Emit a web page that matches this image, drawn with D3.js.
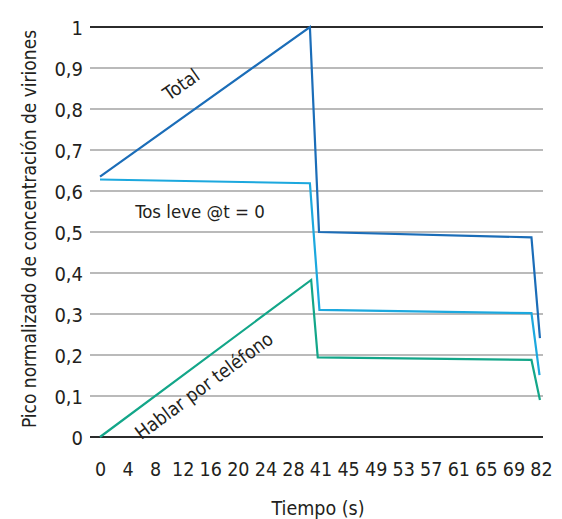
<!DOCTYPE html>
<html>
<head>
<meta charset="utf-8">
<script src="https://cdn.jsdelivr.net/npm/d3@7"></script>
<style>
  html, body { margin: 0; padding: 0; background: #fff; }
  svg text { font-family: "Liberation Sans Narrow", "DejaVu Sans Condensed", "Roboto", sans-serif; fill: #231f20; }
</style>
</head>
<body>
<svg id="chart" width="562" height="519"></svg>
<script>
// ---- data ----
const xTickLabels = [0, 4, 8, 12, 16, 20, 24, 28, 41, 45, 49, 53, 57, 61, 65, 69, 82];
const yTickValues = [0, 0.1, 0.2, 0.3, 0.4, 0.5, 0.6, 0.7, 0.8, 0.9, 1];

const seriesNames = ["Total", "Tos leve @t = 0", "Hablar por teléfono"];
const totalTimes   = [0, 36, 40.3, 77.5, 81.5];
const totalValues  = [0.635, 1.0, 0.50, 0.487, 0.241];
const tosTimes     = [0, 36, 40.5, 77.5, 81.3];
const tosValues    = [0.628, 0.619, 0.31, 0.302, 0.151];
const hablarTimes  = [0, 36.6, 39.7, 77.5, 81.5];
const hablarValues = [0, 0.383, 0.194, 0.188, 0.09];

const colors = ["#1b6db8", "#1ca8de", "#13a689"];

// ---- layout ----
const svg = d3.select("#chart");
const plotLeft = 90, plotRight = 543;
const firstTickX = 100, lastTickX = 541;
const yTop = 27, yBottom = 437;

const step = (lastTickX - firstTickX) / (xTickLabels.length - 1);
const x = d3.scaleLinear()
  .domain(xTickLabels)
  .range(xTickLabels.map((d, i) => firstTickX + i * step));
const y = d3.scaleLinear().domain([0, 1]).range([yBottom, yTop]);

const fmt = v => (v === 0 ? "0" : v === 1 ? "1" : d3.format(".1f")(v).replace(".", ","));

// grid lines
svg.append("g").selectAll("line")
  .data(yTickValues)
  .join("line")
  .attr("x1", plotLeft).attr("x2", plotRight)
  .attr("y1", d => y(d)).attr("y2", d => y(d))
  .attr("stroke", d => (d === 0 || d === 1) ? "#2b2b2b" : "#a3a3a3")
  .attr("stroke-width", d => (d === 0 || d === 1) ? 1.8 : 1.6);

// y axis labels
const yAxis = d3.axisLeft(y).tickValues(yTickValues).tickFormat(fmt).tickSize(0).tickPadding(0);
const gy = svg.append("g").attr("transform", `translate(83,0)`).call(yAxis);
gy.select(".domain").remove();
gy.selectAll("text").attr("font-size", 20).attr("dy", "0.36em").style("font-family", null);

// x axis labels
const xAxis = d3.axisBottom(x).tickValues(xTickLabels).tickFormat(d3.format("d")).tickSize(0).tickPadding(0);
const gx = svg.append("g").attr("transform", `translate(0,462)`).call(xAxis);
gx.select(".domain").remove();
gx.selectAll("text").attr("font-size", 19.5).attr("dy", "0.71em").style("font-family", null);

// axis titles
svg.append("text")
  .attr("x", 318).attr("y", 515)
  .attr("text-anchor", "middle").attr("font-size", 19.5)
  .text("Tiempo (s)");
svg.append("text")
  .attr("transform", "translate(36,229) rotate(-90)")
  .attr("text-anchor", "middle").attr("font-size", 19)
  .text("Pico normalizado de concentración de viriones");

// lines
const series = [
  { times: totalTimes, values: totalValues },
  { times: tosTimes, values: tosValues },
  { times: hablarTimes, values: hablarValues }
];
const line = d3.line().x(d => x(d[0])).y(d => y(d[1]));
series.forEach((s, i) => {
  svg.append("path")
    .datum(s.times.map((t, j) => [t, s.values[j]]))
    .attr("d", line)
    .attr("fill", "none")
    .attr("stroke", colors[i])
    .attr("stroke-width", 2.2)
    .attr("stroke-linejoin", "miter");
});

// annotations
svg.append("text")
  .attr("transform", "translate(185,90) rotate(-35)")
  .attr("text-anchor", "middle").attr("font-size", 19)
  .text(seriesNames[0]);
svg.append("text")
  .attr("x", 200).attr("y", 218)
  .attr("text-anchor", "middle").attr("font-size", 18.5)
  .text(seriesNames[1]);
svg.append("text")
  .attr("transform", "translate(208,391) rotate(-36.5)")
  .attr("text-anchor", "middle").attr("font-size", 19)
  .text(seriesNames[2]);
</script>
</body>
</html>
